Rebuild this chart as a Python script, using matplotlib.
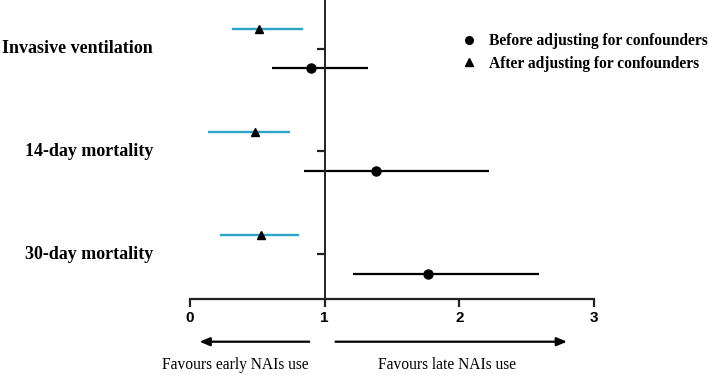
import matplotlib
matplotlib.use("Agg")
import matplotlib.pyplot as plt
import matplotlib.transforms as mtransforms
from matplotlib.lines import Line2D

categories = ["Invasive ventilation", "14-day mortality", "30-day mortality"]
before_est = [0.90, 1.38, 1.77]
before_lo = [0.61, 0.85, 1.21]
before_hi = [1.32, 2.22, 2.59]
after_est = [0.51, 0.48, 0.53]
after_lo = [0.31, 0.13, 0.22]
after_hi = [0.84, 0.74, 0.81]
xticks = [0, 1, 2, 3]
legend_labels = ["Before adjusting for confounders", "After adjusting for confounders"]
left_note = "Favours early NAIs use"
right_note = "Favours late NAIs use"

BLUE = "#2aa5c8"
SERIF = ["Liberation Serif", "DejaVu Serif"]
SANS = ["Liberation Sans", "DejaVu Sans"]

fig = plt.figure(figsize=(7.09, 3.75), dpi=100)
ax = fig.add_axes([190 / 709, 76 / 375, 404 / 709, 298 / 375])

ypos = [3, 2, 1]
off = 0.188
for y, e, lo, hi in zip(ypos, after_est, after_lo, after_hi):
    ax.hlines(y + off, lo, hi, color=BLUE, lw=1.7, zorder=2)
    ax.plot([e], [y + off], marker="^", color="black", ms=6, ls="none", zorder=3)
for y, e, lo, hi in zip(ypos, before_est, before_lo, before_hi):
    ax.hlines(y - off, lo, hi, color="black", lw=1.6, zorder=2)
    ax.plot([e], [y - off], marker="o", color="black", ms=6.5, ls="none", zorder=3)

ax.set_xlim(0, 3)
ax.set_ylim(0.567, 3.462)
ax.spines["top"].set_visible(False)
ax.spines["right"].set_visible(False)
ax.spines["left"].set_position(("data", 1))
ax.spines["left"].set_color("#222222")
ax.spines["left"].set_linewidth(1.4)
ax.spines["bottom"].set_color("#222222")
ax.spines["bottom"].set_linewidth(1.6)
ax.set_yticks(ypos)
ax.set_yticklabels([])
ax.tick_params(axis="y", direction="out", length=6, width=1.6, color="#222222")
ax.set_xticks(xticks)
ax.set_xticklabels([str(t) for t in xticks], fontfamily=SANS, fontweight="bold", fontsize=11)
ax.tick_params(axis="x", direction="out", length=6, width=1.6, color="#222222", pad=2.5)

# category labels
tr = mtransforms.blended_transform_factory(fig.transFigure, ax.transData)
for y, c in zip(ypos, categories):
    fig.text(153 / 709, y, c, transform=tr, ha="right", va="center",
             fontfamily=SERIF, fontweight="bold", fontsize=13)

# legend
handles = [Line2D([], [], marker="o", color="black", ls="none", ms=5.5),
           Line2D([], [], marker="^", color="black", ls="none", ms=5.5)]
leg = fig.legend(handles, legend_labels, loc="upper left",
                 bbox_to_anchor=(461 / 709, 342 / 375), bbox_transform=fig.transFigure,
                 borderaxespad=0, borderpad=0,
                 frameon=False, prop={"family": SERIF, "weight": "bold", "size": 11.2},
                 handletextpad=0.8, labelspacing=0.42, handlelength=1.0)

# arrows and notes
tra = mtransforms.blended_transform_factory(ax.transData, fig.transFigure)
ay = 33.3 / 375
ax.annotate("", xy=(0.05, ay), xytext=(0.906, ay), xycoords=tra, textcoords=tra,
            arrowprops=dict(arrowstyle="-|>,head_length=0.6,head_width=0.25", color="black", lw=1.6),
            annotation_clip=False)
ax.annotate("", xy=(2.82, ay), xytext=(1.06, ay), xycoords=tra, textcoords=tra,
            arrowprops=dict(arrowstyle="-|>,head_length=0.6,head_width=0.25", color="black", lw=1.6),
            annotation_clip=False)
ty = 9.8 / 375
ax.text(0.333, ty, left_note, transform=tra, ha="center", va="center",
        fontfamily=SERIF, fontsize=11.2)
ax.text(1.907, ty, right_note, transform=tra, ha="center", va="center",
        fontfamily=SERIF, fontsize=11.2)

fig.savefig("out.png", dpi=100)
